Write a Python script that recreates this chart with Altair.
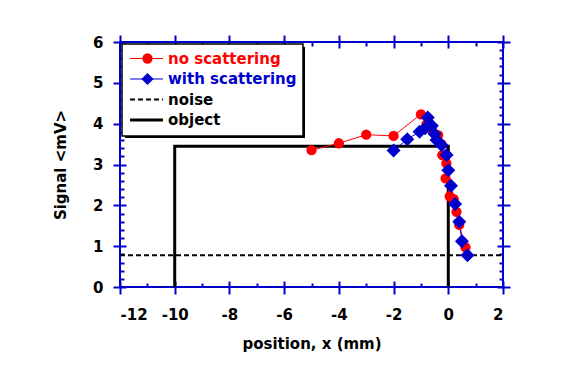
import altair as alt
import pandas as pd

# ---------------- data ----------------
red_x = [-5, -4, -3, -2, -1, -0.8, -0.6, -0.37, -0.25, -0.22, -0.07, -0.1, 0.05, 0.2, 0.3, 0.4, 0.63]
red_y = [3.35, 3.52, 3.73, 3.70, 4.23, 3.98, 3.85, 3.72, 3.5, 3.23, 3.03, 2.66, 2.22, 2.15, 1.84, 1.52, 0.97]

blue_x = [-2.0, -1.5, -1.05, -0.85, -0.75, -0.6, -0.5, -0.43, -0.25, -0.06, 0.0, 0.1, 0.25, 0.4, 0.5, 0.7]
blue_y = [3.34, 3.62, 3.80, 3.89, 4.15, 3.95, 3.75, 3.60, 3.48, 3.23, 2.86, 2.48, 2.03, 1.60, 1.12, 0.78]

noise_level = [0.78]
object_x = [-10, -10, 0, 0]
object_y = [0, 3.45, 3.45, 0]

x_ticks = [-12, -10, -8, -6, -4, -2, 0, 2]
x_minor = [-11, -9, -7, -5, -3, -1, 1]
y_ticks = [0, 1, 2, 3, 4, 5, 6]
y_minor = [v / 5 for v in range(0, 31) if v % 5 != 0]

legend_labels = ["no scattering", "with scattering", "noise", "object"]
legend_colors = ["#ff0000", "#0000cc", "#000000", "#000000"]

# ---------------- style ----------------
BLUE = "#0000cc"
RED = "#ff0000"
FONT = "DejaVu Sans"

xs = alt.Scale(domain=[-12, 2], nice=False, zero=False)
ys = alt.Scale(domain=[0, 6], nice=False, zero=False)


def tick_axis(orient, values, major, labels=False, title=None, label_pad=0, title_pad=0):
    kw = dict(
        orient=orient,
        values=values,
        domain=False,
        grid=False,
        ticks=True,
        tickColor=BLUE,
        tickWidth=2,
        offset=-6 if major else -4,
        tickSize=13 if major else 4,
        labels=labels,
    )
    if labels:
        kw.update(labelFont=FONT, labelFontSize=15, labelFontWeight="bold",
                  labelColor="black", labelPadding=label_pad,
                  labelExpr="datum.value + ''")
    if title:
        kw.update(title=title, titleFont=FONT, titleFontSize=15, titleFontWeight="bold",
                  titleColor="black", titlePadding=title_pad)
    else:
        kw.update(title=None)
    return alt.Axis(**kw)


obj_df = pd.DataFrame({"x": object_x, "y": object_y, "i": list(range(len(object_x)))})
noise_df = pd.DataFrame({"y": noise_level, "x1": [x_ticks[0]], "x2": [x_ticks[-1]]})
red_df = pd.DataFrame({"x": red_x, "y": red_y, "i": list(range(len(red_x)))})
blue_df = pd.DataFrame({"x": blue_x, "y": blue_y, "i": list(range(len(blue_x)))})

obj = alt.Chart(obj_df).mark_line(color="black", strokeWidth=3, strokeJoin="miter").encode(
    x=alt.X("x:Q", scale=xs, axis=tick_axis("bottom", x_ticks, True, labels=True,
                                             title="position, x (mm)", label_pad=13, title_pad=14)),
    y=alt.Y("y:Q", scale=ys, axis=tick_axis("left", y_ticks, True, labels=True,
                                             title="Signal <mV>", label_pad=10, title_pad=24)),
    order="i:Q",
)

noise = alt.Chart(noise_df).mark_rule(color="black", strokeWidth=2, strokeDash=[5, 3]).encode(
    x=alt.X("x1:Q", scale=xs, axis=tick_axis("bottom", x_minor, False)),
    x2="x2:Q",
    y=alt.Y("y:Q", scale=ys, axis=tick_axis("left", y_minor, False)),
)

red_line = alt.Chart(red_df).mark_line(color=RED, strokeWidth=1).encode(
    x=alt.X("x:Q", scale=xs, axis=tick_axis("top", x_ticks, True)),
    y=alt.Y("y:Q", scale=ys, axis=tick_axis("right", y_ticks, True)),
    order="i:Q",
)

blue_line = alt.Chart(blue_df).mark_line(color=BLUE, strokeWidth=1).encode(
    x=alt.X("x:Q", scale=xs, axis=tick_axis("top", x_minor, False)),
    y=alt.Y("y:Q", scale=ys, axis=tick_axis("right", y_minor, False)),
    order="i:Q",
)

red_pts = alt.Chart(red_df).mark_point(shape="circle", filled=True, color=RED, size=106, opacity=1).encode(
    x=alt.X("x:Q", scale=xs, axis=None),
    y=alt.Y("y:Q", scale=ys, axis=None),
)

blue_pts = alt.Chart(blue_df).mark_point(shape="diamond", filled=True, color=BLUE, size=196, opacity=1).encode(
    x=alt.X("x:Q", scale=xs, axis=None),
    y=alt.Y("y:Q", scale=ys, axis=None),
)

# ---------------- legend ----------------
one = pd.DataFrame({"a": [0]})
shadow = alt.Chart(one).mark_rect(fill="black").encode(
    x=alt.value(5), x2=alt.value(185), y=alt.value(5), y2=alt.value(96))
box = alt.Chart(one).mark_rect(fill="white", stroke="black", strokeWidth=1.5).encode(
    x=alt.value(2), x2=alt.value(183), y=alt.value(2), y2=alt.value(94))

leg_df = pd.DataFrame({
    "label": legend_labels,
    "color": legend_colors,
    "row": list(range(len(legend_labels))),
})
leg_df["ly"] = 16.5 + 20.5 * leg_df["row"]

leg_base = alt.Chart(leg_df)
ly = alt.Y("ly:Q", scale=None, axis=None)
leg_series_lines = leg_base.transform_filter("datum.row < 2").mark_rule(strokeWidth=1).encode(
    x=alt.value(10), x2=alt.value(43), y=ly, color=alt.Color("color:N", scale=None))
leg_noise = leg_base.transform_filter("datum.row == 2").mark_rule(
    strokeWidth=2, strokeDash=[5, 3], color="black").encode(x=alt.value(10), x2=alt.value(43), y=ly)
leg_obj = leg_base.transform_filter("datum.row == 3").mark_rule(
    strokeWidth=3, color="black").encode(x=alt.value(10), x2=alt.value(43), y=ly)
leg_circle = leg_base.transform_filter("datum.row == 0").mark_point(
    shape="circle", filled=True, color=RED, size=106, opacity=1).encode(x=alt.value(27.5), y=ly)
leg_diamond = leg_base.transform_filter("datum.row == 1").mark_point(
    shape="diamond", filled=True, color=BLUE, size=150, opacity=1).encode(x=alt.value(27.5), y=ly)
leg_text = leg_base.mark_text(align="left", baseline="middle", font=FONT, fontSize=15,
                              fontWeight="bold").encode(
    x=alt.value(48), y=ly, text="label:N", color=alt.Color("color:N", scale=None))

chart = alt.layer(
    obj, noise, red_line, blue_line, red_pts, blue_pts,
    shadow, box, leg_series_lines, leg_noise, leg_obj, leg_circle, leg_diamond, leg_text,
).resolve_axis(x="independent", y="independent").properties(
    width=383, height=245, autosize="none",
    padding={"left": 112, "top": 34, "right": 64, "bottom": 73},
    background="white",
).configure_view(stroke=BLUE, strokeWidth=2)

chart.save("out.html", embed_options={"renderer": "svg", "actions": False})
